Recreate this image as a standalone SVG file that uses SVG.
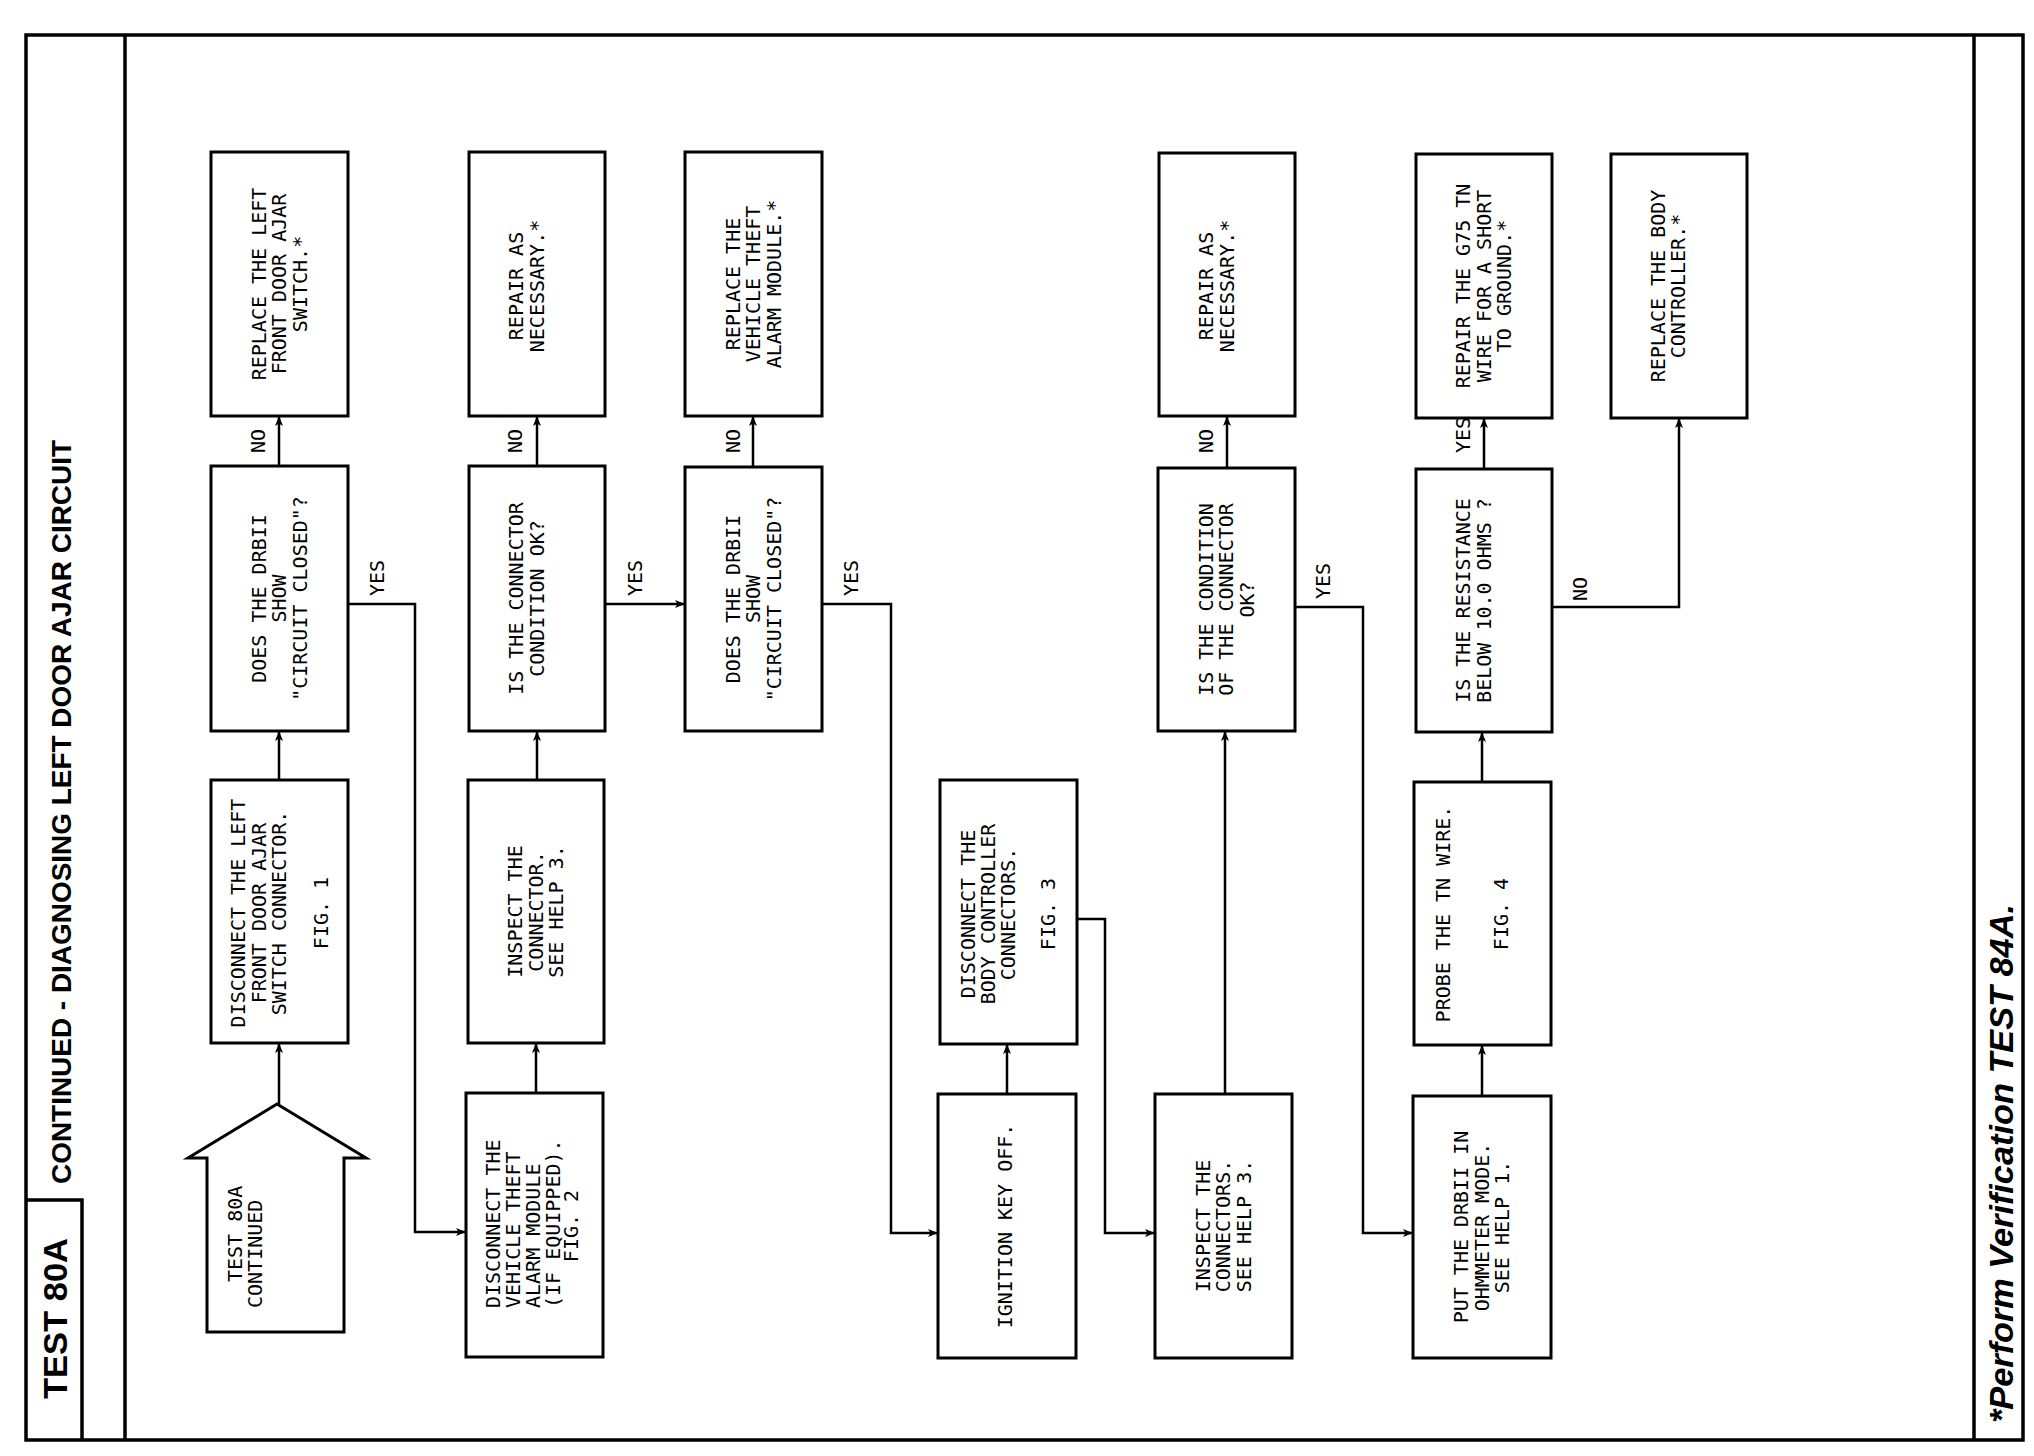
<svg xmlns="http://www.w3.org/2000/svg" width="2034" height="1456" viewBox="0 0 2034 1456">
<style>
.box{fill:#fff;stroke:#000;stroke-width:3}
.fr{fill:none;stroke:#000;stroke-width:3.5}
.ln{fill:none;stroke:#000;stroke-width:2.5}
.t{font-family:"DejaVu Sans Mono","Liberation Mono",monospace;font-size:20px;fill:#000;text-anchor:middle}
.ts{font-family:"DejaVu Sans Mono","Liberation Mono",monospace;font-size:20px;fill:#000;text-anchor:start}
.hd{font-family:"Liberation Sans",Arial,sans-serif;font-weight:bold;fill:#000}
</style>
<defs>
<marker id="ah" viewBox="0 0 10 8" refX="10" refY="4" markerWidth="10" markerHeight="8" markerUnits="userSpaceOnUse" orient="auto">
<path d="M0,0 L10,4 L0,8 L2.5,4 z" fill="#000"/>
</marker>
</defs>
<rect width="2034" height="1456" fill="#fff"/>
<g id="frame">
<rect class="fr" x="26" y="35" width="1997" height="1405"/>
<line class="fr" x1="125" y1="35" x2="125" y2="1440"/>
<polyline class="fr" points="26,1200 82,1200 82,1440"/>
<line class="fr" x1="1974" y1="35" x2="1974" y2="1440"/>
<text class="hd" font-size="34" transform="translate(67,1399) rotate(-90)" textLength="161" lengthAdjust="spacingAndGlyphs">TEST 80A</text>
<text class="hd" font-size="28" transform="translate(71,1184) rotate(-90)" textLength="744" lengthAdjust="spacingAndGlyphs">CONTINUED - DIAGNOSING LEFT DOOR AJAR CIRCUIT</text>
<text class="hd" font-size="34" font-style="italic" transform="translate(2013,1423) rotate(-90)" textLength="519" lengthAdjust="spacingAndGlyphs">*Perform Verification TEST 84A.</text>
</g>
<g id="connectors">
<path class="ln" marker-end="url(#ah)" d="M279,1104 V1043"/>
<path class="ln" marker-end="url(#ah)" d="M279,780 V731"/>
<path class="ln" marker-end="url(#ah)" d="M279,466 V416"/>
<path class="ln" marker-end="url(#ah)" d="M348,604 H415 V1232 H466"/>
<path class="ln" marker-end="url(#ah)" d="M536,1093 V1043"/>
<path class="ln" marker-end="url(#ah)" d="M537,780 V731"/>
<path class="ln" marker-end="url(#ah)" d="M537,466 V416"/>
<path class="ln" marker-end="url(#ah)" d="M605,604 H685"/>
<path class="ln" marker-end="url(#ah)" d="M753,467 V416"/>
<path class="ln" marker-end="url(#ah)" d="M822,604 H891 V1233 H938"/>
<path class="ln" marker-end="url(#ah)" d="M1007,1094 V1044"/>
<path class="ln" marker-end="url(#ah)" d="M1077,919 H1105 V1233 H1155"/>
<path class="ln" marker-end="url(#ah)" d="M1225,1094 V731"/>
<path class="ln" marker-end="url(#ah)" d="M1227,468 V416"/>
<path class="ln" marker-end="url(#ah)" d="M1295,607 H1363 V1233 H1413"/>
<path class="ln" marker-end="url(#ah)" d="M1482,1096 V1045"/>
<path class="ln" marker-end="url(#ah)" d="M1482,782 V732"/>
<path class="ln" marker-end="url(#ah)" d="M1484,469 V418"/>
<path class="ln" marker-end="url(#ah)" d="M1552,607 H1679 V418"/>
<text class="t" transform="translate(265,441) rotate(-90)">NO</text>
<text class="t" transform="translate(522,441) rotate(-90)">NO</text>
<text class="t" transform="translate(740,441) rotate(-90)">NO</text>
<text class="t" transform="translate(1213,441) rotate(-90)">NO</text>
<text class="t" transform="translate(1470,435) rotate(-90)">YES</text>
<text class="t" transform="translate(384,578) rotate(-90)">YES</text>
<text class="t" transform="translate(642,578) rotate(-90)">YES</text>
<text class="t" transform="translate(858,578) rotate(-90)">YES</text>
<text class="t" transform="translate(1330,581) rotate(-90)">YES</text>
<text class="t" transform="translate(1587,589) rotate(-90)">NO</text>
</g>
<g id="start">
<polygon class="box" points="277,1104 366,1158 344,1158 344,1332 207,1332 207,1158 188,1158"/>
<text class="ts" transform="translate(242,1282) rotate(-90)">TEST 80A</text>
<text class="ts" transform="translate(262,1308) rotate(-90)">CONTINUED</text>
</g>
<g id="n1"><rect class="box" x="211" y="152" width="137" height="264"/>
<text class="t" transform="translate(279.5,284) rotate(-90)"><tspan x="0" y="-14">REPLACE THE LEFT</tspan><tspan x="0" y="6.5">FRONT DOOR AJAR</tspan><tspan x="0" y="27">SWITCH.*</tspan></text></g>
<g id="n2"><rect class="box" x="211" y="466" width="137" height="265"/>
<text class="t" transform="translate(279.5,598.5) rotate(-90)"><tspan x="0" y="-14">DOES THE DRBII</tspan><tspan x="0" y="6.5">SHOW</tspan><tspan x="0" y="27">"CIRCUIT CLOSED"?</tspan></text></g>
<g id="n3"><rect class="box" x="211" y="780" width="137" height="263"/>
<text class="t" transform="translate(279.5,913) rotate(-90)"><tspan x="0" y="-34.5">DISCONNECT THE LEFT</tspan><tspan x="0" y="-13.5">FRONT DOOR AJAR</tspan><tspan x="0" y="6.5">SWITCH CONNECTOR.</tspan><tspan x="0" y="48.5">FIG. 1</tspan></text></g>
<g id="n5"><rect class="box" x="469" y="152" width="136" height="264"/>
<text class="t" transform="translate(537,286) rotate(-90)"><tspan x="0" y="-14">REPAIR AS</tspan><tspan x="0" y="6.5">NECESSARY.*</tspan></text></g>
<g id="n6"><rect class="box" x="469" y="466" width="136" height="265"/>
<text class="t" transform="translate(537,598.5) rotate(-90)"><tspan x="0" y="-14">IS THE CONNECTOR</tspan><tspan x="0" y="6.5">CONDITION OK?</tspan></text></g>
<g id="n7"><rect class="box" x="468" y="780" width="136" height="263"/>
<text class="t" transform="translate(536,911.5) rotate(-90)"><tspan x="0" y="-14">INSPECT THE</tspan><tspan x="0" y="6.5">CONNECTOR.</tspan><tspan x="0" y="27">SEE HELP 3.</tspan></text></g>
<g id="n8"><rect class="box" x="466" y="1093" width="137" height="264"/>
<text class="ts" transform="translate(534,1308) rotate(-90)"><tspan x="0" y="-34">DISCONNECT THE</tspan><tspan x="0" y="-14">VEHICLE THEFT</tspan><tspan x="0" y="6">ALARM MODULE</tspan><tspan x="0" y="26">(IF EQUIPPED).</tspan></text>
<text class="t" transform="translate(534,1226) rotate(-90)"><tspan x="0" y="44">FIG. 2</tspan></text></g>
<g id="n9"><rect class="box" x="685" y="152" width="137" height="264"/>
<text class="t" transform="translate(753.5,284) rotate(-90)"><tspan x="0" y="-14">REPLACE THE</tspan><tspan x="0" y="6.5">VEHICLE THEFT</tspan><tspan x="0" y="27">ALARM MODULE.*</tspan></text></g>
<g id="n10"><rect class="box" x="685" y="467" width="137" height="264"/>
<text class="t" transform="translate(753.5,599) rotate(-90)"><tspan x="0" y="-14">DOES THE DRBII</tspan><tspan x="0" y="6.5">SHOW</tspan><tspan x="0" y="27">"CIRCUIT CLOSED"?</tspan></text></g>
<g id="n11"><rect class="box" x="940" y="780" width="137" height="264"/>
<text class="t" transform="translate(1008.5,914) rotate(-90)"><tspan x="0" y="-33.5">DISCONNECT THE</tspan><tspan x="0" y="-13.5">BODY CONTROLLER</tspan><tspan x="0" y="6.5">CONNECTORS.</tspan><tspan x="0" y="46.5">FIG. 3</tspan></text></g>
<g id="n12"><rect class="box" x="938" y="1094" width="138" height="264"/>
<text class="t" transform="translate(1007,1226) rotate(-90)"><tspan x="0" y="5">IGNITION KEY OFF.</tspan></text></g>
<g id="n13"><rect class="box" x="1159" y="153" width="136" height="263"/>
<text class="t" transform="translate(1227,286) rotate(-90)"><tspan x="0" y="-14">REPAIR AS</tspan><tspan x="0" y="6.5">NECESSARY.*</tspan></text></g>
<g id="n14"><rect class="box" x="1158" y="468" width="137" height="263"/>
<text class="t" transform="translate(1226.5,599.5) rotate(-90)"><tspan x="0" y="-14">IS THE CONDITION</tspan><tspan x="0" y="6.5">OF THE CONNECTOR</tspan><tspan x="0" y="27">OK?</tspan></text></g>
<g id="n15"><rect class="box" x="1155" y="1094" width="137" height="264"/>
<text class="t" transform="translate(1223.5,1226) rotate(-90)"><tspan x="0" y="-14">INSPECT THE</tspan><tspan x="0" y="6.5">CONNECTORS.</tspan><tspan x="0" y="27">SEE HELP 3.</tspan></text></g>
<g id="n16"><rect class="box" x="1416" y="154" width="136" height="264"/>
<text class="t" transform="translate(1484,286) rotate(-90)"><tspan x="0" y="-14">REPAIR THE G75 TN</tspan><tspan x="0" y="6.5">WIRE FOR A SHORT</tspan><tspan x="0" y="27">TO GROUND.*</tspan></text></g>
<g id="n17"><rect class="box" x="1416" y="469" width="136" height="263"/>
<text class="t" transform="translate(1484,600.5) rotate(-90)"><tspan x="0" y="-14">IS THE RESISTANCE</tspan><tspan x="0" y="6.5">BELOW 10.0 OHMS ?</tspan></text></g>
<g id="n18"><rect class="box" x="1414" y="782" width="137" height="263"/>
<text class="t" transform="translate(1482.5,914) rotate(-90)"><tspan x="0" y="-32.5">PROBE THE TN WIRE.</tspan><tspan x="0" y="25.5">FIG. 4</tspan></text></g>
<g id="n19"><rect class="box" x="1413" y="1096" width="138" height="262"/>
<text class="t" transform="translate(1482,1227) rotate(-90)"><tspan x="0" y="-14">PUT THE DRBII IN</tspan><tspan x="0" y="6.5">OHMMETER MODE.</tspan><tspan x="0" y="27">SEE HELP 1.</tspan></text></g>
<g id="n20"><rect class="box" x="1611" y="154" width="136" height="264"/>
<text class="t" transform="translate(1679,286) rotate(-90)"><tspan x="0" y="-14">REPLACE THE BODY</tspan><tspan x="0" y="6">CONTROLLER.*</tspan></text></g>
</svg>
